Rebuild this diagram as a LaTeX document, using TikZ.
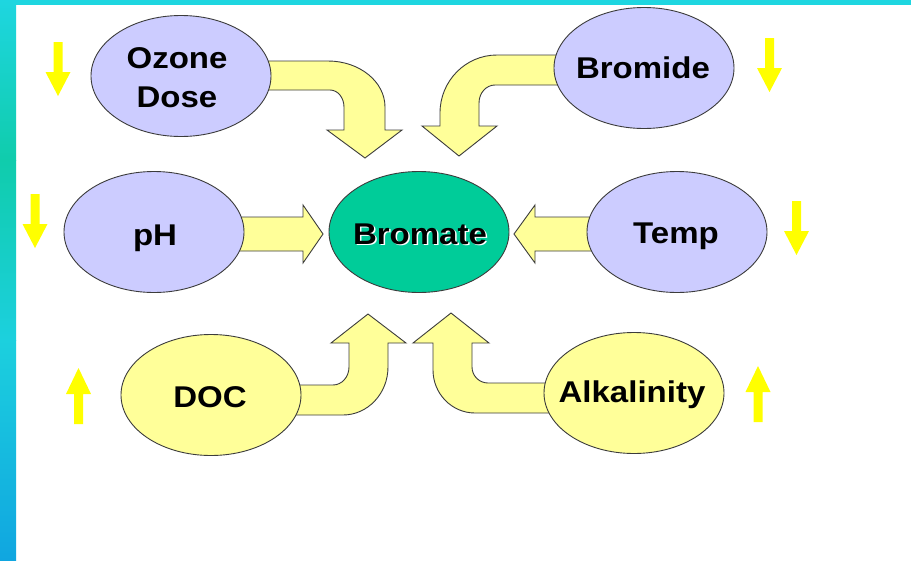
\documentclass[tikz,border=0pt]{standalone}
\usepackage{fontspec}
\setmainfont{Liberation Sans}[FakeStretch=1.1]
\usetikzlibrary{shapes.geometric}

\definecolor{lavender}{RGB}{204,204,255}
\definecolor{paleyellow}{RGB}{255,255,153}
\definecolor{bromategreen}{RGB}{0,204,153}
\definecolor{cueyellow}{RGB}{255,255,0}
\definecolor{edgegray}{RGB}{60,60,60}
\definecolor{bandcyan}{RGB}{30,214,224}
\definecolor{bandteal}{RGB}{16,204,172}
\definecolor{bandcyanlow}{RGB}{28,208,222}
\definecolor{bandblue}{RGB}{16,166,224}

\pgfdeclarelayer{canvas}
\pgfdeclarelayer{under}
\pgfsetlayers{canvas,under,main}

\tikzset{
  bubble/.style={ellipse, draw=edgegray, line width=0.9pt,
    minimum width=180pt, minimum height=121pt, inner sep=0pt},
  lbl/.style={anchor=base, inner sep=0pt,
    font=\fontsize{30}{39}\selectfont\bfseries},
  block/.style={fill=paleyellow, draw=edgegray, line width=0.9pt, line join=miter},
  downcue/.pic={\fill[cueyellow] (-4.5,0) -- (4.5,0) -- (4.5,30) -- (12.5,30)
    -- (0,54) -- (-12.5,30) -- (-4.5,30) -- cycle;},
  upcue/.pic={\fill[cueyellow] (0,0) -- (12.5,26) -- (4.5,26) -- (4.5,56)
    -- (-4.5,56) -- (-4.5,26) -- (-12.5,26) -- cycle;}
}

\begin{document}
\begin{tikzpicture}[x=1pt,y=-1pt]
\useasboundingbox (0,0) rectangle (911,560);

% slide background with its coloured frame
\begin{pgfonlayer}{canvas}
  \fill[white] (0,0) rectangle (911,560);
  \fill[bandcyan] (0,0) rectangle (911,5);
  \shade[top color=bandcyan, bottom color=bandteal] (0,0) rectangle (16,160.5);
  \shade[top color=bandteal, bottom color=bandcyanlow] (0,160) rectangle (16,340.5);
  \shade[top color=bandcyanlow, bottom color=bandblue] (0,340) rectangle (16,560);
\end{pgfonlayer}

% factor bubbles
\node[bubble, fill=lavender]     (ozone)   at (181,76)  {};
\node[bubble, fill=lavender]     (bromide) at (644,68)  {};
\node[bubble, fill=lavender]     (ph)      at (154,232) {};
\node[bubble, fill=bromategreen] (bromate) at (419,232) {};
\node[bubble, fill=lavender]     (temp)    at (677,232) {};
\node[bubble, fill=paleyellow]   (doc)     at (211,395) {};
\node[bubble, fill=paleyellow]   (alk)     at (634,393) {};

% labels
\node[lbl] (ozoneA) at (177,68)  {Ozone};
\node[lbl] (ozoneB) at (177,107) {Dose};
\node[lbl] (bromideT) at (643,78) {Bromide};
\node[lbl] (phT) at (155,245) {pH};
\node[lbl, text=white] (bromateS) at (421.5,245.5) {Bromate};
\node[lbl] (bromateT) at (420,244) {Bromate};
\node[lbl] (tempT) at (676,243) {Temp};
\node[lbl] (docT) at (210,407) {DOC};
\node[lbl] (alkT) at (632,402) {Alkalinity};

% block arrows into the bromate bubble
\begin{pgfonlayer}{under}
  \draw[block] (ozone |- 0,61) -- (328,61) .. controls (359.5,61) and (385,81.6) .. (385,107)
    -- (385,130) -- (402,130) -- (365,158) -- (327,130) -- (344,130) -- (344,107)
    .. controls (344,97.6) and (337.7,90) .. (330,90) -- (ozone |- 0,90) -- cycle;
  \draw[block] (bromide |- 0,55) -- (497,55) .. controls (465.5,55) and (440,81) .. (440,113)
    -- (440,126) -- (422,126) -- (459,156) -- (497,126) -- (479,126) -- (479,103)
    .. controls (479,93) and (486.2,85) .. (495,85) -- (bromide |- 0,85) -- cycle;
  \draw[block] (ph |- 0,217) -- (303,217) -- (303,205) -- (323,234) -- (303,263)
    -- (303,251) -- (ph |- 0,251) -- cycle;
  \draw[block] (temp |- 0,217) -- (535,217) -- (535,205) -- (514,234) -- (535,263)
    -- (535,251) -- (temp |- 0,251) -- cycle;
  \draw[block] (doc |- 0,385) -- (333,385) .. controls (341.8,385) and (349,377) .. (349,367)
    -- (349,343) -- (331,343) -- (368,314) -- (406,343) -- (388,343) -- (388,367)
    .. controls (388,393.5) and (367.8,415) .. (343,415) -- (doc |- 0,415) -- cycle;
  \draw[block] (alk |- 0,383) -- (488,383) .. controls (479.2,383) and (472,375.8) .. (472,367)
    -- (472,343) -- (489,343) -- (451,313) -- (413,343) -- (433,343) -- (433,370)
    .. controls (433,393.7) and (451.8,413) .. (475,413) -- (alk |- 0,413) -- cycle;
\end{pgfonlayer}

% trend cues beside each factor
\pic at (58,42)    {downcue};
\pic at (769.5,38) {downcue};
\pic at (35,194)   {downcue};
\pic at (796.5,201) {downcue};
\pic at (78.5,368) {upcue};
\pic at (758,366)  {upcue};

\end{tikzpicture}
\end{document}
